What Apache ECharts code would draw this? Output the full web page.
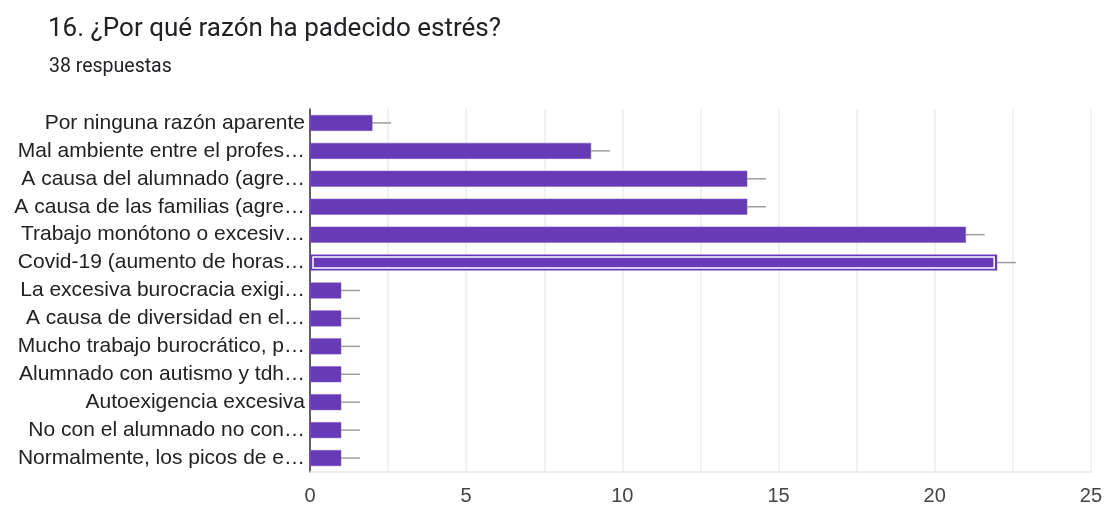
<!DOCTYPE html>
<html><head><meta charset="utf-8">
<script src="https://cdn.jsdelivr.net/npm/echarts@6/dist/echarts.min.js"></script>
<style>html,body{margin:0;padding:0;background:#fff}#c{width:1105px;height:509px}</style>
</head><body><div id="c"></div>
<script>
const categories = [
  'Por ninguna razón aparente',
  'Mal ambiente entre el profes…',
  'A causa del alumnado (agre…',
  'A causa de las familias (agre…',
  'Trabajo monótono o excesiv…',
  'Covid-19 (aumento de horas…',
  'La excesiva burocracia exigi…',
  'A causa de diversidad en el…',
  'Mucho trabajo burocrático, p…',
  'Alumnado con autismo y tdh…',
  'Autoexigencia excesiva',
  'No con el alumnado no con…',
  'Normalmente, los picos de e…'
];
const values = [2, 9, 14, 14, 21, 22, 1, 1, 1, 1, 1, 1, 1];
const errors = [0.6, 0.6, 0.6, 0.6, 0.6, 0.6, 0.6, 0.6, 0.6, 0.6, 0.6, 0.6, 0.6];
const highlighted = [5];
const xTicks = [0, 5, 10, 15, 20, 25];

const purple = '#673ab7';
const chart = echarts.init(document.getElementById('c'));
chart.setOption({
  animation: false,
  title: [
    {text: '16. ¿Por qué razón ha padecido estrés?', left: 43, top: 11,
     textStyle: {fontFamily: 'Roboto', fontSize: 26, fontWeight: 'normal', color: '#202124'}},
    {text: '38 respuestas', left: 44, top: 52,
     textStyle: {fontFamily: 'Roboto', fontSize: 19.5, fontWeight: 'normal', color: '#202124'}}
  ],
  grid: {left: 310, right: 13, top: 109, bottom: 37, containLabel: false},
  xAxis: {
    type: 'value', min: 0, max: 25, interval: 2.5,
    axisLine: {show: true, lineStyle: {color: '#e6e6e6', width: 1.5}},
    axisTick: {show: false},
    splitLine: {show: true, lineStyle: {color: '#ececec', width: 1.5}},
    axisLabel: {
      fontFamily: 'Liberation Sans', fontSize: 20, color: '#444', margin: 14,
      formatter: v => xTicks.indexOf(v) >= 0 ? String(v) : ''
    }
  },
  yAxis: {
    type: 'category', data: categories, inverse: true,
    axisLine: {show: true, lineStyle: {color: '#333', width: 1.5}},
    axisTick: {show: false},
    axisLabel: {fontFamily: 'Liberation Sans', fontSize: 21, color: '#222', margin: 5}
  },
  series: [
    {
      type: 'custom', z: 1,
      renderItem: (params, api) => {
        const i = params.dataIndex;
        const a = api.coord([values[i], i]);
        const b = api.coord([values[i] + errors[i], i]);
        return {type: 'line', shape: {x1: a[0], y1: a[1], x2: b[0], y2: b[1]},
                style: {stroke: '#9e9e9e', lineWidth: 1.5}};
      },
      data: values.map((v, i) => [v, i]),
      silent: true
    },
    {
      type: 'bar', z: 2, barWidth: 16,
      data: values.map((v, i) => highlighted.indexOf(i) >= 0
        ? {value: v, itemStyle: {color: purple, borderColor: purple, borderWidth: 2}}
        : v),
      itemStyle: {color: purple, borderColor: '#7e57c2', borderWidth: 0.5}
    },
    {
      type: 'custom', z: 3,
      renderItem: (params, api) => {
        const i = highlighted[params.dataIndex];
        const a = api.coord([0, i]);
        const b = api.coord([values[i], i]);
        return {type: 'rect',
                shape: {x: a[0] + 3, y: a[1] - 5.5, width: b[0] - a[0] - 6, height: 11},
                style: {fill: null, stroke: '#fff', lineWidth: 1.5}};
      },
      data: highlighted.map(i => [values[i], i]),
      silent: true
    }
  ]
});
</script></body></html>
